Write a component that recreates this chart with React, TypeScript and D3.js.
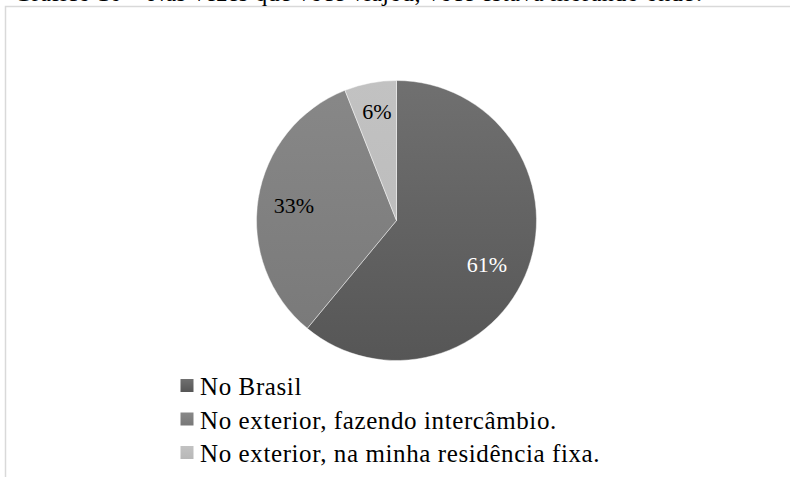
import React from "react";
import * as d3 from "d3";

const categories = [
  "No Brasil",
  "No exterior, fazendo intercâmbio.",
  "No exterior, na minha residência fixa.",
];
const values = [61, 33, 6];
const labels = ["61%", "33%", "6%"];
const titleText = "Gráfico 10 – Nas vezes que você viajou, você estava morando onde?";

const gradTop = ["#707070", "#888888", "#c2c2c2"];
const gradBottom = ["#565656", "#787878", "#b8b8b8"];
const labelColors = ["#ffffff", "#000000", "#000000"];

export default function App() {
  const W = 790;
  const H = 477;
  const cx = 396.5;
  const cy = 220.5;
  const r = 140;
  const fontStyle = { fontFamily: "Liberation Serif, Times New Roman, serif" };

  const pie = d3.pie<number>().sort(null).value((d) => d);
  const arcs = pie(values);
  const arc = d3.arc<d3.PieArcDatum<number>>().innerRadius(0).outerRadius(r);

  const labelPos: [number, number][] = [
    [487, 272],
    [294, 213],
    [377, 119],
  ];

  const legendY = d3.scaleLinear().domain([0, 2]).range([395, 462]);

  return (
    <svg
      width={W}
      height={H}
      style={{ position: "absolute", left: 0, top: 0, background: "#fff" }}
    >
      <defs>
        {values.map((_, i) => (
          <linearGradient key={i} id={`g${i}`} x1="0" y1="0" x2="0" y2="1">
            <stop offset="0" stopColor={gradTop[i]} />
            <stop offset="1" stopColor={gradBottom[i]} />
          </linearGradient>
        ))}
        {values.map((_, i) => (
          <linearGradient
            key={`p${i}`}
            id={`pg${i}`}
            gradientUnits="userSpaceOnUse"
            x1={0}
            y1={-r}
            x2={0}
            y2={r}
          >
            <stop offset="0" stopColor={gradTop[i]} />
            <stop offset="1" stopColor={gradBottom[i]} />
          </linearGradient>
        ))}
      </defs>
      <rect x={0} y={0} width={W} height={H} fill="#fff" />
      <path d={`M5.5,${H} L5.5,6.5 L${W},6.5`} fill="none" stroke="#d9d9d9" strokeWidth={1.5} />
      <text
        x={14}
        y={1}
        style={fontStyle}
        fontSize={24}
        fill="#000"
        textLength={691}
        lengthAdjust="spacing"
      >
        {titleText}
      </text>
      <g transform={`translate(${cx},${cy})`}>
        {arcs.map((a, i) => (
          <path
            key={i}
            d={arc(a) || ""}
            fill={`url(#pg${i})`}
            stroke="#ffffff"
            strokeOpacity={0.6}
            strokeWidth={0.75}
          />
        ))}
      </g>
      {labels.map((l, i) => (
        <text
          key={i}
          x={labelPos[i][0]}
          y={labelPos[i][1]}
          textAnchor="middle"
          style={fontStyle}
          fontSize={22}
          fill={labelColors[i]}
        >
          {l}
        </text>
      ))}
      {categories.map((c, i) => (
        <g key={i}>
          <rect
            x={180.5}
            y={legendY(i) - 16}
            width={13}
            height={13}
            fill={`url(#g${i})`}
          />
          <text
            x={200}
            y={legendY(i)}
            style={fontStyle}
            fontSize={25}
            letterSpacing={0.6}
            fill="#000"
          >
            {c}
          </text>
        </g>
      ))}
    </svg>
  );
}
